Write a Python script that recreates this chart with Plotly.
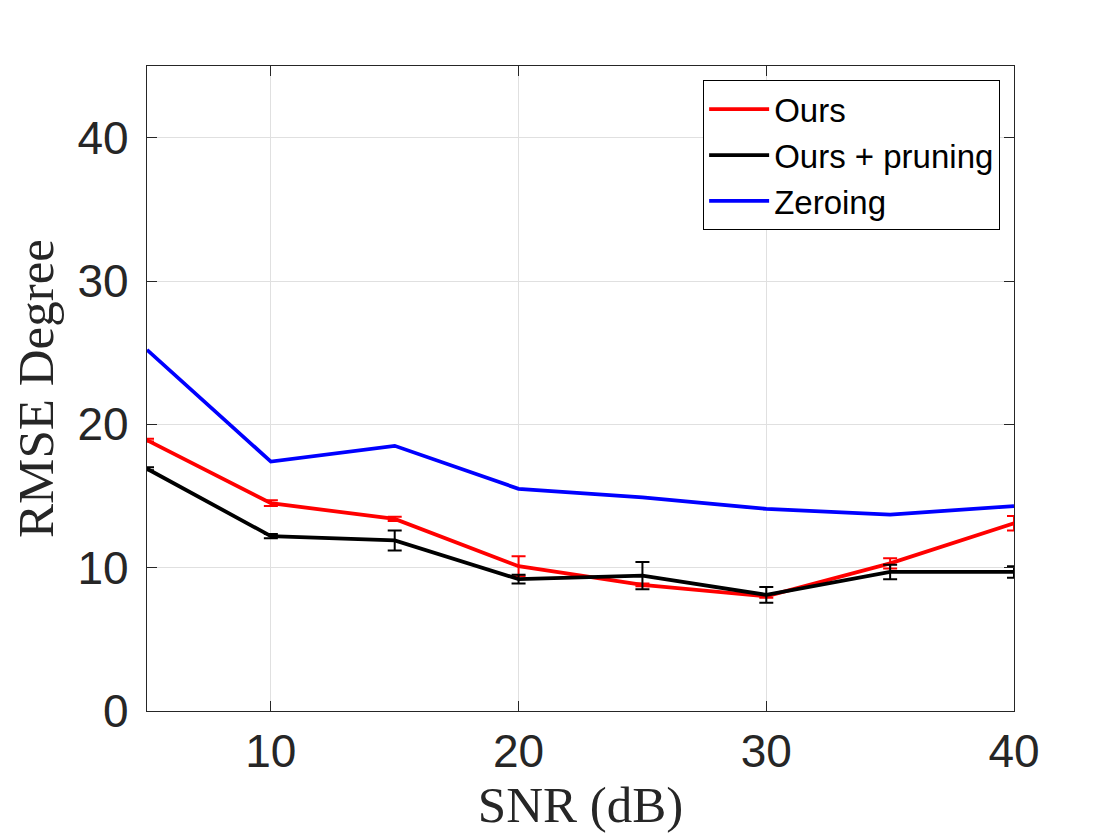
import plotly.graph_objects as go

# values
snr = [5, 10, 15, 20, 25, 30, 35, 40]

ours = [18.9, 14.5, 13.4, 10.1, 8.8, 8.0, 10.3, 13.1]
ours_err = [0.1, 0.2, 0.15, 0.7, 0.1, 0.1, 0.35, 0.5]

ours_pruning = [16.9, 12.2, 11.9, 9.2, 9.45, 8.1, 9.7, 9.7]
ours_pruning_err = [0.1, 0.15, 0.7, 0.3, 0.95, 0.55, 0.5, 0.4]

zeroing = [25.2, 17.4, 18.5, 15.5, 14.9, 14.1, 13.7, 14.3]

x_ticks = [10, 20, 30, 40]
y_ticks = [0, 10, 20, 30, 40]

axis_col = "#262626"
sans = "Liberation Sans, Arial, sans-serif"
serif = "Liberation Serif, DejaVu Serif, serif"

fig = go.Figure()

fig.add_trace(go.Scatter(
    x=snr, y=ours, mode="lines", name="Ours",
    line=dict(color="#ff0000", width=3.8),
    error_y=dict(type="data", array=ours_err, visible=True,
                 color="#ff0000", thickness=2, width=7),
))
fig.add_trace(go.Scatter(
    x=snr, y=ours_pruning, mode="lines", name="Ours + pruning",
    line=dict(color="#000000", width=3.8),
    error_y=dict(type="data", array=ours_pruning_err, visible=True,
                 color="#000000", thickness=2, width=7),
))
fig.add_trace(go.Scatter(
    x=snr, y=zeroing, mode="lines", name="Zeroing",
    line=dict(color="#0000ff", width=3.8),
))

axis_common = dict(
    showline=True, linecolor=axis_col, linewidth=1.2, mirror="ticks",
    ticks="inside", ticklen=10, tickwidth=1.2, tickcolor=axis_col,
    showgrid=True, gridcolor="#e0e0e0", gridwidth=1,
    zeroline=False,
    tickfont=dict(family=sans, size=46, color=axis_col),
)

fig.update_xaxes(
    range=[5, 40], tickvals=x_ticks, **axis_common,
    title=dict(text="SNR (dB)", font=dict(family=serif, size=51, color=axis_col), standoff=6),
)
fig.update_yaxes(
    range=[0, 45], tickvals=y_ticks, ticklabelstandoff=8, **axis_common,
    title=dict(text="RMSE Degree", font=dict(family=serif, size=51, color=axis_col), standoff=14),
)

fig.update_layout(
    width=1120, height=840,
    margin=dict(l=139, r=114, t=58, b=137),
    paper_bgcolor="white", plot_bgcolor="white",
    showlegend=True,
    legend=dict(
        x=0.984, y=0.978, xanchor="right", yanchor="top",
        bgcolor="white", bordercolor="#000000", borderwidth=1,
        font=dict(family=sans, size=33, color="#000000"),
        itemwidth=60, tracegroupgap=0,
    ),
)

fig.write_html("out.html")
